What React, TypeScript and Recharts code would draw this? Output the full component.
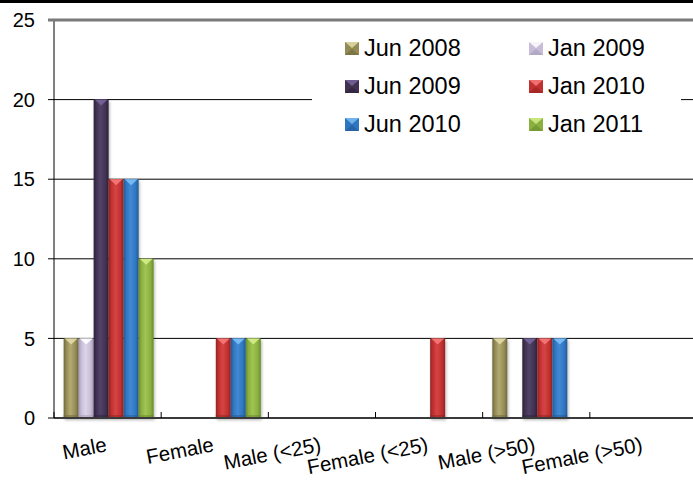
import React from "react"
import { BarChart, Bar, XAxis, YAxis, CartesianGrid, Legend } from "recharts"

// categories and values
const categories = ["Male", "Female", "Male (<25)", "Female (<25)", "Male (>50)", "Female (>50)"]
const jun2008 = [5, 0, 0, 0, 5, 0]
const jan2009 = [5, 0, 0, 0, 0, 0]
const jun2009 = [20, 0, 0, 0, 5, 0]
const jan2010 = [15, 5, 0, 5, 5, 0]
const jun2010 = [15, 5, 0, 0, 5, 0]
const jan2011 = [10, 5, 0, 0, 0, 0]
const yTicks = [0, 5, 10, 15, 20, 25]

const series = [
  { key: "jun2008", name: "Jun 2008", values: jun2008, color: "#948a54", dark: "#6f683e", light: "#b3aa72", tip: "#e2dca8" },
  { key: "jan2009", name: "Jan 2009", values: jan2009, color: "#c8bdd8", dark: "#a59bb6", light: "#dcd4e8", tip: "#ffffff" },
  { key: "jun2009", name: "Jun 2009", values: jun2009, color: "#403151", dark: "#2c2139", light: "#534268", tip: "#75659a" },
  { key: "jan2010", name: "Jan 2010", values: jan2010, color: "#c0302f", dark: "#922222", light: "#d64444", tip: "#f57a7a" },
  { key: "jun2010", name: "Jun 2010", values: jun2010, color: "#2f76c0", dark: "#215993", light: "#4289d4", tip: "#7cc0f5" },
  { key: "jan2011", name: "Jan 2011", values: jan2011, color: "#8ab040", dark: "#688a2c", light: "#a1c454", tip: "#d4ee88" },
]

const data = categories.map((c, i) => {
  const row: any = { name: c }
  series.forEach((s) => (row[s.key] = s.values[i]))
  return row
})

const FONT = "'Liberation Sans', Arial, sans-serif"
const CHART_W = 720
const CHART_H = 481
const PLOT_TOP = 20
const PLOT_LEFT = 54
const PLOT_RIGHT = 697
const HALF_BAND = (PLOT_RIGHT - PLOT_LEFT) / categories.length / 2

const BevelBar = (props: any) => {
  const { x, y, width, height, s } = props
  if (!height || height <= 0) return null
  const id = `grad-${s.key}`
  const tipH = Math.min(6, height)
  return (
    <g>
      <defs>
        <linearGradient id={id} x1="0" y1="0" x2="1" y2="0">
          <stop offset="0%" stopColor={s.dark} />
          <stop offset="18%" stopColor={s.color} />
          <stop offset="45%" stopColor={s.light} />
          <stop offset="80%" stopColor={s.color} />
          <stop offset="100%" stopColor={s.dark} />
        </linearGradient>
        <filter id="barShadow" x="-30%" y="-5%" width="160%" height="115%">
          <feDropShadow dx="1" dy="2" stdDeviation="1.5" floodColor="#000" floodOpacity="0.3" />
        </filter>
      </defs>
      <rect x={x} y={y} width={width} height={height} fill={`url(#${id})`} filter="url(#barShadow)" />
      <polygon
        points={`${x + 1},${y} ${x + width - 1},${y} ${x + width / 2},${y + tipH}`}
        fill={s.tip}
        opacity={0.9}
      />
      <rect x={x} y={y + height - 3} width={width} height={3} fill={s.dark} opacity={0.5} />
    </g>
  )
}

const XTick = (props: any) => {
  const { x, y, payload } = props
  const ty = y + 33
  return (
    <g>
      <line x1={x - HALF_BAND} y1={y} x2={x - HALF_BAND} y2={y - 6} stroke="#000" strokeWidth={1} />
      <text
        x={x}
        y={ty}
        textAnchor="end"
        fontSize={20.5}
        fontFamily={FONT}
        fill="#000"
        transform={`rotate(-11, ${x}, ${ty})`}
      >
        {payload.value}
      </text>
    </g>
  )
}

const LegendBox = () => (
  <div style={{ position: "relative", width: 369, height: 125, background: "#fff" }}>
    {series.map((s, i) => {
      const col = i % 2
      const row = Math.floor(i / 2)
      return (
        <div
          key={s.key}
          style={{
            position: "absolute",
            left: col === 0 ? 33 : 217,
            top: 4 + row * 38,
            height: 38,
            display: "flex",
            alignItems: "center",
            fontFamily: FONT,
            fontSize: 23.5,
            color: "#000",
            whiteSpace: "nowrap",
          }}
        >
          <svg width={14} height={13} style={{ marginRight: 5 }}>
            <rect x={0} y={0} width={14} height={13} fill={s.color} />
            <polygon points="0,0 14,0 7,6" fill={s.tip} opacity={0.85} />
            <polygon points="0,13 14,13 7,7" fill={s.dark} opacity={0.6} />
          </svg>
          {s.name}
        </div>
      )
    })}
  </div>
)

export default function App() {
  return (
    <div
      style={{
        position: "fixed",
        left: 0,
        top: 0,
        width: 693,
        height: 481,
        overflow: "hidden",
        background: "#fff",
      }}
    >
      <BarChart
        width={CHART_W}
        height={CHART_H}
        data={data}
        margin={{ top: PLOT_TOP, right: CHART_W - PLOT_RIGHT, bottom: 0, left: 0 }}
        barCategoryGap="9%"
        barGap={0}
      >
        <CartesianGrid vertical={false} stroke="#000" strokeWidth={1} />
        <XAxis
          dataKey="name"
          height={63}
          axisLine={{ stroke: "#3a3a3a", strokeWidth: 2 }}
          tickLine={false}
          tickSize={0}
          tickMargin={0}
          interval={0}
          tick={<XTick />}
        />
        <YAxis
          width={PLOT_LEFT}
          domain={[0, 25]}
          ticks={yTicks}
          interval={0}
          axisLine={{ stroke: "#000", strokeWidth: 1 }}
          tickLine={{ stroke: "#000" }}
          tickSize={6}
          tickMargin={13}
          tick={{ fontSize: 20, fontFamily: FONT, fill: "#000" }}
        />
        <Legend
          layout="horizontal"
          verticalAlign="middle"
          align="center"
          content={<LegendBox />}
          wrapperStyle={{ position: "absolute", left: 312, top: 25, width: 369, height: 125 }}
        />
        {series.map((s) => (
          <Bar
            key={s.key}
            dataKey={s.key}
            name={s.name}
            fill={s.color}
            isAnimationActive={false}
            shape={(p: any) => <BevelBar {...p} s={s} />}
          />
        ))}
      </BarChart>
      {/* black band along the top edge and the grey frame line at the 25 level */}
      <svg
        width={693}
        height={30}
        style={{ position: "absolute", left: 0, top: 0, zIndex: 10, pointerEvents: "none" }}
      >
        <rect x={0} y={0} width={693} height={3} fill="#000" />
        <line x1={48} y1={PLOT_TOP} x2={693} y2={PLOT_TOP} stroke="#7a7a7a" strokeWidth={3} />
      </svg>
    </div>
  )
}
